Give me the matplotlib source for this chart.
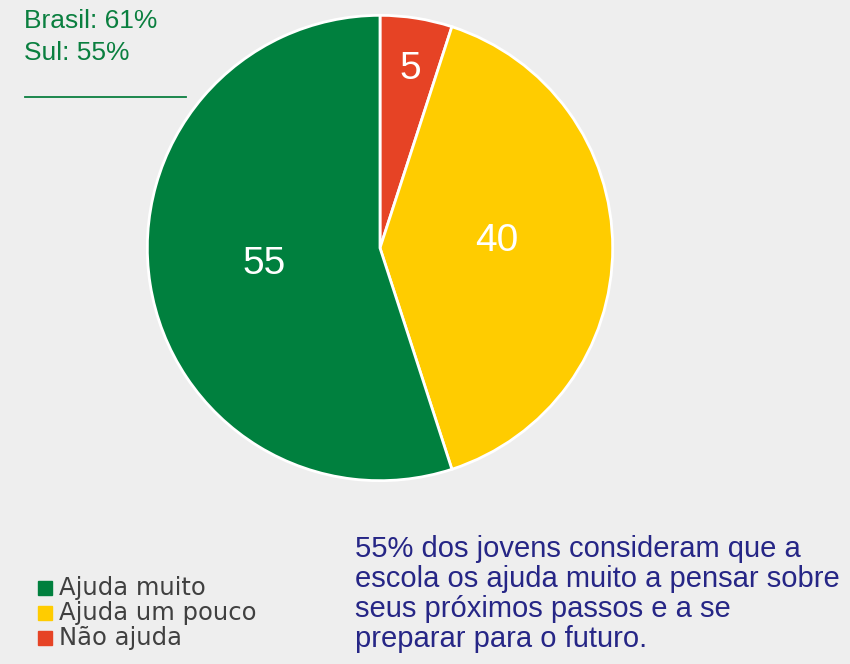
import matplotlib.pyplot as plt

# data
categories = ["Ajuda muito", "Ajuda um pouco", "Não ajuda"]
values = [55, 40, 5]
colors = ["#00803E", "#FFCC00", "#E64325"]

region_labels = ["Brasil: 61%", "Sul: 55%"]
note_lines = [
    "55% dos jovens consideram que a",
    "escola os ajuda muito a pensar sobre",
    "seus próximos passos e a se",
    "preparar para o futuro.",
]

W, H = 850, 664
fig = plt.figure(figsize=(W / 100, H / 100), dpi=100)
fig.patch.set_facecolor("#eeeeee")


def px(x, y):
    # pixel coords (from top-left) -> figure fraction
    return x / W, 1 - y / H


# pie, centre ~ (380, 248) px, radius ~235 px
cx, cy, r = 380, 248, 235
ax = fig.add_axes([(cx - r) / W, 1 - (cy + r) / H, 2 * r / W, 2 * r / H])
ax.set_facecolor("none")

# clockwise from the top: red, yellow, green
ax.pie(
    values[::-1],
    colors=colors[::-1],
    startangle=90,
    counterclock=False,
    radius=1,
    wedgeprops=dict(edgecolor="white", linewidth=2),
)
ax.set_xlim(-1.01, 1.01)
ax.set_ylim(-1.01, 1.01)
ax.set_aspect("equal")
ax.axis("off")

label_pos = [(-0.5, -0.07), (0.5, 0.03), (0.13, 0.77)]
for v, (lx, ly) in zip(values, label_pos):
    ax.text(lx, ly, str(v), color="white", fontsize=28,
            family="Liberation Sans", ha="center", va="center")

# top-left region note
for i, t in enumerate(region_labels):
    x, y = px(24, 21 + i * 32)
    fig.text(x, y, t, color="#0A7F3F", fontsize=19, family="Liberation Sans",
             ha="left", va="center")
fig.add_artist(plt.Line2D([25 / W, 186 / W], [1 - 97 / H] * 2,
                          color="#0A7F3F", linewidth=1.3))

# legend
for i, (c, t) in enumerate(zip(colors, categories)):
    x, y = px(45, 588 + i * 25)
    fig.add_artist(plt.Line2D([x], [y], marker="s", markersize=10,
                              markerfacecolor=c, markeredgecolor=c, linestyle="none"))
    x2, _ = px(59, 0)
    fig.text(x2, y, t, color="#404040", fontsize=17.5, family="DejaVu Sans",
             ha="left", va="center")

# explanatory note
for i, t in enumerate(note_lines):
    x, y = px(355, 549 + i * 30)
    fig.text(x, y, t, color="#262686", fontsize=21, family="Liberation Sans",
             ha="left", va="center")

fig.savefig("out.png", dpi=100, facecolor=fig.get_facecolor())
